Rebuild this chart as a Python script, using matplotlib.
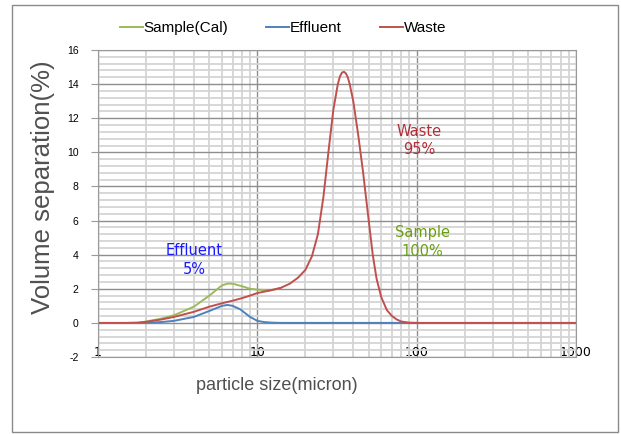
import numpy as np
import matplotlib.pyplot as plt
from matplotlib.patches import Rectangle
from matplotlib.ticker import MultipleLocator, LogLocator, NullFormatter

plt.rcParams['font.family'] = ['Liberation Sans', 'DejaVu Sans']

# Data
waste_x = [1, 1.5, 1.8, 2, 2.5, 3, 4, 5, 6, 7, 8, 9, 10, 12, 14, 16, 18, 20,
           22, 24, 26, 28, 30, 32, 33, 34, 35, 36, 37, 38, 40, 43, 46, 50, 53,
           56, 60, 65, 70, 75, 80, 90, 100, 200, 500, 1000]
waste_y = [0, 0, 0.02, 0.06, 0.2, 0.35, 0.65, 0.95, 1.15, 1.3, 1.45, 1.6, 1.75,
           1.9, 2.05, 2.3, 2.65, 3.1, 3.9, 5.2, 7.4, 10.1, 12.5, 14.0, 14.45,
           14.68, 14.72, 14.62, 14.38, 14.0, 13.0, 11.0, 8.9, 6.0, 4.0, 2.6,
           1.5, 0.75, 0.4, 0.2, 0.08, 0.01, 0, 0, 0, 0]

effluent_x = [1.8, 2, 2.5, 3, 4, 5, 6, 6.5, 7, 7.8, 9, 10, 11, 12, 14, 20, 50, 100]
effluent_y = [0, 0.01, 0.05, 0.12, 0.35, 0.7, 1.0, 1.05, 1.0, 0.8, 0.35, 0.12,
              0.05, 0.02, 0, 0, 0, 0]

sample_x = [1.8, 2, 2.5, 3, 4, 5, 6, 6.5, 7, 8, 9, 10, 12, 14]
sample_y = [0, 0.08, 0.25, 0.45, 0.95, 1.6, 2.2, 2.3, 2.3, 2.15, 2.0, 1.95, 1.9, 2.05]

x_ticks = [1, 10, 100, 1000]
y_ticks = [-2, 0, 2, 4, 6, 8, 10, 12, 14, 16]

c_sample = '#9bbb59'
c_effl = '#4f81bd'
c_waste = '#c0504d'

W, H = 621, 434
fig = plt.figure(figsize=(W / 100, H / 100), dpi=100)
fig.patches.append(Rectangle((12 / W, 1 - 432 / H), 606 / W, 427 / H,
                             transform=fig.transFigure, fill=False,
                             edgecolor='#8a8a8a', lw=1.0))

ax = fig.add_axes([98 / W, 1 - 357 / H, 478 / W, 307 / H])
ax.set_xscale('log')
ax.set_xlim(1, 1000)
ax.set_ylim(-2, 16)

ax.plot(sample_x, sample_y, color=c_sample, lw=1.4, label='Sample(Cal)')
ax.plot(effluent_x, effluent_y, color=c_effl, lw=1.4, label='Effluent')
ax.plot(waste_x, waste_y, color=c_waste, lw=1.4, label='Waste')

# grid
ax.yaxis.set_major_locator(MultipleLocator(2))
ax.yaxis.set_minor_locator(MultipleLocator(0.4))
ax.xaxis.set_major_locator(LogLocator(base=10))
ax.xaxis.set_minor_locator(LogLocator(base=10, subs=np.arange(2, 10)))
ax.xaxis.set_minor_formatter(NullFormatter())
ax.grid(which='minor', color='#d4d4d4', lw=1.3)
ax.grid(which='major', color='#8e8e8e', lw=1.0)
ax.set_axisbelow(True)
for s in ax.spines.values():
    s.set_color('#9a9a9a')

ax.set_xticks(x_ticks)
ax.set_xticklabels([str(v) for v in x_ticks], family='DejaVu Sans')
ax.set_yticks(y_ticks)
ax.set_yticklabels([str(v) for v in y_ticks])
ax.tick_params(axis='x', which='both', length=0, pad=-8, labelsize=9)
ax.tick_params(axis='y', which='major', length=5, color='#9a9a9a', pad=9,
               labelsize=7.5)
ax.tick_params(axis='y', which='minor', length=0)

# axis titles
fig.text(43 / W, 1 - 187 / H, 'Volume separation(%)', rotation=90,
         fontsize=18.5, color='#505050', ha='center', va='center')
fig.text(277 / W, 1 - 386 / H, 'particle size(micron)', fontsize=13,
         color='#505050', ha='center', va='center')

ax.text(4.0, 3.7, 'Effluent\n5%', color='#1a1aff', fontsize=10.5,
        family='DejaVu Sans', ha='center', va='center', linespacing=1.3)
ax.text(104, 10.7, 'Waste\n95%', color='#b0303a', fontsize=10.5,
        family='DejaVu Sans', ha='center', va='center', linespacing=1.3)
ax.text(109, 4.74, 'Sample\n100%', color='#6aa010', fontsize=10.5,
        family='DejaVu Sans', ha='center', va='center', linespacing=1.3)

fig.legend(loc='center', bbox_to_anchor=(283 / W, 1 - 28 / H), ncol=3,
           frameon=False, fontsize=11, handlelength=1.5, handletextpad=0.05,
           columnspacing=2.5)

fig.savefig('out.png', dpi=100)
